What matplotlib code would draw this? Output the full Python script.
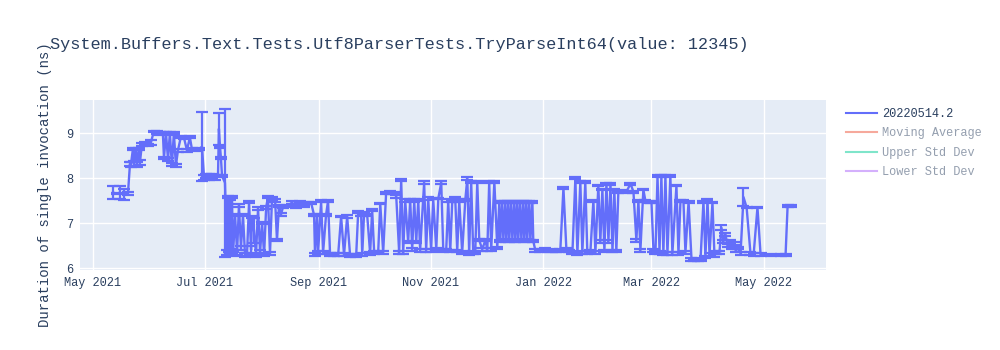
import matplotlib
matplotlib.use("Agg")
import matplotlib.pyplot as plt
import matplotlib.dates as mdates
from matplotlib.lines import Line2D
import pandas as pd
import numpy as np

plt.rcParams['font.family'] = ['Liberation Mono', 'DejaVu Sans Mono']

title = "System.Buffers.Text.Tests.Utf8ParserTests.TryParseInt64(value: 12345)"
y_label = "Duration of single invocation (ns)"
series_name = "20220514.2"
hidden_series = ["Moving Average", "Upper Std Dev", "Lower Std Dev"]
start_date = "2021-05-01"

# days after 2021-05-01 for each run (rows of 10)
day_offset = [
    10.9, 13.1, 14.7, 16.9, 19.1, 20.2, 20.7, 21.8, 22.3, 23.4,
    24.0, 25.1, 25.6, 26.7, 28.3, 30.0, 31.6, 33.2, 34.9, 36.5,
    38.1, 38.7, 39.8, 40.9, 41.9, 43.0, 44.1, 45.2, 46.3, 47.9,
    49.6, 51.2, 52.8, 53.9, 56.1, 57.7, 59.4, 60.5, 61.6, 63.2,
    64.8, 66.5, 68.1, 68.6, 69.2, 69.7, 70.3, 71.9, 73.0, 73.5,
    74.1, 74.6, 75.2, 75.7, 76.3, 77.4, 78.5, 79.5, 80.6, 81.7,
    82.8, 83.9, 85.0, 86.1, 86.6, 87.7, 88.8, 89.9, 91.0, 92.1,
    93.2, 94.3, 95.3, 96.4, 97.5, 99.2, 100.2, 101.3, 102.4, 103.5,
    105.7, 108.4, 110.6, 112.8, 115.0, 117.1, 118.8, 120.4, 120.9, 122.0,
    122.6, 124.2, 125.3, 126.9, 128.0, 129.1, 131.3, 133.5, 135.1, 136.7,
    138.4, 140.0, 141.6, 143.3, 144.4, 146.0, 146.6, 147.6, 149.3, 150.9,
    152.0, 153.1, 155.3, 156.4, 158.0, 159.6, 161.8, 164.0, 165.1, 166.7,
    167.8, 168.9, 170.0, 171.6, 172.7, 173.8, 174.9, 176.0, 177.1, 178.1,
    180.3, 181.4, 182.5, 184.1, 185.2, 186.9, 188.0, 189.6, 190.7, 192.3,
    193.4, 194.5, 195.6, 197.2, 198.3, 199.4, 201.0, 202.7, 203.8, 204.8,
    205.9, 207.0, 208.1, 209.2, 210.3, 211.9, 213.6, 214.7, 215.7, 216.8,
    218.5, 220.1, 221.2, 221.7, 222.8, 223.4, 224.5, 225.0, 226.1, 226.6,
    227.7, 228.3, 229.4, 229.9, 231.0, 231.5, 232.6, 233.2, 234.3, 234.8,
    235.9, 236.4, 237.5, 238.1, 239.2, 239.7, 240.8, 243.5, 246.2, 247.9,
    250.1, 252.2, 254.4, 256.1, 257.7, 259.3, 261.0, 262.6, 263.7, 265.3,
    266.4, 268.0, 269.1, 270.8, 272.4, 273.5, 275.1, 276.2, 277.3, 278.4,
    279.5, 280.6, 281.7, 282.8, 283.8, 284.9, 286.0, 288.2, 290.4, 292.6,
    294.2, 295.8, 296.9, 298.0, 299.6, 300.7, 302.4, 304.0, 305.1, 306.2,
    307.3, 308.4, 309.4, 310.5, 311.6, 312.7, 314.3, 315.4, 317.6, 318.7,
    319.8, 321.4, 322.5, 324.2, 325.8, 327.4, 329.1, 330.7, 332.3, 333.4,
    334.5, 335.6, 337.2, 338.3, 339.4, 341.0, 342.1, 343.2, 344.3, 345.4,
    346.5, 347.6, 348.7, 349.8, 350.9, 352.5, 354.1, 355.8, 357.9, 359.6,
    361.7, 363.4, 368.8, 374.3, 377.0, 378.1, 379.7,
]
# mean duration of a single invocation, ns
duration_ns = [
    7.68, 7.66, 7.68, 7.64, 7.66, 8.32, 8.30, 8.65, 8.33, 8.66,
    8.30, 8.65, 8.35, 8.75, 8.78, 8.74, 8.80, 9.04, 9.02, 9.00,
    9.01, 8.45, 9.00, 8.42, 9.00, 8.30, 9.00, 8.28, 8.62, 8.92,
    8.90, 8.62, 8.91, 8.65, 8.63, 8.65, 8.70, 8.02, 8.05, 8.03,
    8.05, 8.02, 8.05, 9.10, 8.70, 8.45, 8.05, 7.90, 6.35, 7.58,
    6.33, 7.55, 6.38, 7.58, 6.32, 7.18, 6.35, 7.40, 6.45, 7.18,
    6.30, 6.30, 7.47, 6.40, 7.13, 6.84, 6.30, 7.33, 6.35, 7.00,
    6.30, 7.35, 7.58, 6.33, 7.55, 7.50, 6.62, 7.38, 7.20, 7.36,
    7.38, 7.46, 7.36, 7.48, 7.38, 7.46, 7.45, 7.18, 6.30, 7.18,
    6.35, 7.50, 6.35, 7.18, 7.50, 6.30, 6.30, 6.30, 7.15, 6.30,
    7.15, 6.28, 6.30, 6.28, 7.25, 7.20, 6.30, 7.22, 7.18, 6.33,
    7.30, 6.35, 6.37, 7.44, 6.35, 7.67, 7.68, 7.67, 7.60, 6.35,
    7.96, 6.35, 7.50, 6.58, 7.52, 6.42, 7.50, 6.58, 7.52, 6.40,
    7.90, 6.40, 7.55, 6.40, 7.55, 6.42, 7.55, 7.90, 6.40, 6.40,
    7.50, 6.38, 7.50, 7.57, 6.38, 7.50, 6.35, 7.52, 8.00, 6.33,
    7.92, 6.35, 6.33, 7.92, 6.62, 6.42, 6.62, 6.42, 7.92, 6.42,
    7.92, 6.45, 7.48, 6.60, 7.48, 6.62, 7.48, 6.60, 7.48, 6.60,
    7.48, 6.62, 7.48, 6.60, 7.48, 6.60, 7.48, 6.62, 7.48, 6.60,
    7.48, 6.62, 7.48, 6.60, 7.48, 6.60, 6.40, 6.40, 6.42, 6.38,
    6.40, 6.38, 6.40, 7.78, 6.42, 6.38, 6.35, 8.00, 6.33, 7.92,
    6.35, 7.92, 6.35, 6.38, 7.50, 6.35, 7.84, 6.60, 7.75, 6.38,
    7.88, 6.60, 7.88, 6.38, 7.75, 6.38, 7.70, 7.72, 7.70, 7.88,
    7.70, 6.62, 7.50, 6.40, 7.75, 7.50, 7.48, 7.48, 6.40, 6.35,
    8.05, 6.35, 8.05, 6.33, 8.05, 6.33, 8.05, 6.33, 7.84, 6.33,
    7.50, 7.50, 6.35, 7.48, 6.20, 6.18, 6.20, 6.18, 7.48, 6.25,
    7.52, 6.30, 7.46, 6.28, 6.35, 6.35, 6.90, 6.60, 6.75, 6.50,
    6.60, 6.45, 6.55, 6.40, 6.45, 6.33, 7.58, 7.35, 6.33, 6.30,
    7.35, 6.30, 6.30, 6.30, 6.30, 7.38, 7.38,
]
# error bar half-size, ns
error_ns = [
    0.14, 0.02, 0.14, 0.12, 0.03, 0.05, 0.06, 0.03, 0.05, 0.02,
    0.06, 0.03, 0.05, 0.03, 0.03, 0.03, 0.05, 0.02, 0.03, 0.03,
    0.02, 0.03, 0.02, 0.04, 0.03, 0.03, 0.02, 0.04, 0.03, 0.02,
    0.02, 0.03, 0.02, 0.03, 0.02, 0.03, 0.77, 0.05, 0.04, 0.06,
    0.04, 0.05, 0.03, 0.35, 0.02, 0.02, 0.03, 1.65, 0.05, 0.02,
    0.04, 0.03, 0.05, 0.02, 0.04, 0.03, 0.05, 0.03, 0.05, 0.02,
    0.04, 0.03, 0.02, 0.10, 0.02, 0.28, 0.04, 0.03, 0.05, 0.02,
    0.03, 0.03, 0.02, 0.04, 0.03, 0.03, 0.02, 0.03, 0.03, 0.03,
    0.02, 0.03, 0.02, 0.02, 0.03, 0.02, 0.02, 0.03, 0.03, 0.02,
    0.04, 0.02, 0.04, 0.03, 0.02, 0.03, 0.03, 0.03, 0.02, 0.03,
    0.03, 0.03, 0.02, 0.03, 0.03, 0.03, 0.03, 0.02, 0.03, 0.03,
    0.02, 0.03, 0.02, 0.02, 0.03, 0.02, 0.03, 0.02, 0.03, 0.03,
    0.02, 0.03, 0.03, 0.03, 0.02, 0.03, 0.03, 0.02, 0.02, 0.03,
    0.03, 0.03, 0.03, 0.03, 0.02, 0.03, 0.02, 0.03, 0.03, 0.02,
    0.03, 0.03, 0.02, 0.02, 0.03, 0.03, 0.03, 0.02, 0.03, 0.03,
    0.02, 0.03, 0.02, 0.02, 0.02, 0.03, 0.02, 0.03, 0.03, 0.03,
    0.02, 0.03, 0.02, 0.02, 0.02, 0.02, 0.02, 0.02, 0.02, 0.02,
    0.02, 0.02, 0.02, 0.02, 0.02, 0.02, 0.02, 0.02, 0.02, 0.02,
    0.02, 0.02, 0.02, 0.02, 0.02, 0.02, 0.03, 0.03, 0.03, 0.03,
    0.03, 0.03, 0.03, 0.02, 0.03, 0.03, 0.03, 0.02, 0.03, 0.02,
    0.03, 0.02, 0.03, 0.03, 0.02, 0.03, 0.02, 0.03, 0.02, 0.03,
    0.02, 0.03, 0.02, 0.03, 0.02, 0.03, 0.02, 0.02, 0.02, 0.02,
    0.02, 0.03, 0.02, 0.03, 0.02, 0.02, 0.02, 0.02, 0.03, 0.03,
    0.03, 0.03, 0.03, 0.03, 0.03, 0.03, 0.03, 0.03, 0.02, 0.03,
    0.02, 0.02, 0.03, 0.02, 0.03, 0.03, 0.03, 0.03, 0.02, 0.03,
    0.02, 0.03, 0.02, 0.03, 0.03, 0.03, 0.05, 0.03, 0.03, 0.03,
    0.03, 0.03, 0.03, 0.03, 0.03, 0.03, 0.20, 0.02, 0.03, 0.03,
    0.02, 0.03, 0.02, 0.02, 0.02, 0.02, 0.02,
]

n = min(len(day_offset), len(duration_ns), len(error_ns))
print(len(day_offset), len(duration_ns), len(error_ns))
dates = pd.Timestamp(start_date) + pd.to_timedelta(np.array(day_offset[:n]), unit="D")
vals = np.array(duration_ns[:n])
errs = np.array(error_ns[:n])

blue = "#636efa"
hidden_colors = ["#EF553B", "#00cc96", "#ab63fa"]
text_color = "#2a3f5f"

fig = plt.figure(figsize=(10, 3.5), dpi=100)
ax = fig.add_axes([0.080, 1 - 270 / 350, 0.746, 170 / 350])
ax.set_facecolor("#E5ECF6")
for s in ax.spines.values():
    s.set_visible(False)
ax.grid(True, color="white", linewidth=1)
ax.set_axisbelow(True)

ax.errorbar(dates, vals, yerr=errs, color=blue, linewidth=1.7,
            elinewidth=1.6, capsize=4.5, capthick=1.6, zorder=3)

ax.set_xlim(pd.Timestamp("2021-04-24"), pd.Timestamp("2022-06-04"))
ax.set_ylim(5.96, 9.74)
ax.set_yticks([6, 7, 8, 9])
ax.set_xticks(pd.to_datetime(["2021-05-01", "2021-07-01", "2021-09-01", "2021-11-01",
                              "2022-01-01", "2022-03-01", "2022-05-01"]))
ax.xaxis.set_major_formatter(mdates.DateFormatter("%b %Y"))
ax.tick_params(length=0, labelsize=8.6, colors=text_color, pad=5)

fig.text(0.05, 1 - 45 / 350, title, fontsize=12.2, color=text_color, va="center", ha="left")
fig.text(0.045, 1 - 185 / 350, y_label, fontsize=10.1, color=text_color,
         rotation=90, va="center", ha="center")

handles = [Line2D([], [], color=blue, linewidth=1.5)]
labels = [series_name]
for name, c in zip(hidden_series, hidden_colors):
    handles.append(Line2D([], [], color=c, linewidth=1.5, alpha=0.5))
    labels.append(name)
leg = fig.legend(handles, labels, loc="upper left", bbox_to_anchor=(0.846, 1 - 108 / 350),
                 frameon=False, fontsize=8.6, handlelength=2.6, handletextpad=0.45,
                 labelspacing=0.62, borderaxespad=0, borderpad=0)
for i, t in enumerate(leg.get_texts()):
    t.set_color(text_color)
    if i > 0:
        t.set_alpha(0.5)

fig.savefig("out.png", dpi=100)
